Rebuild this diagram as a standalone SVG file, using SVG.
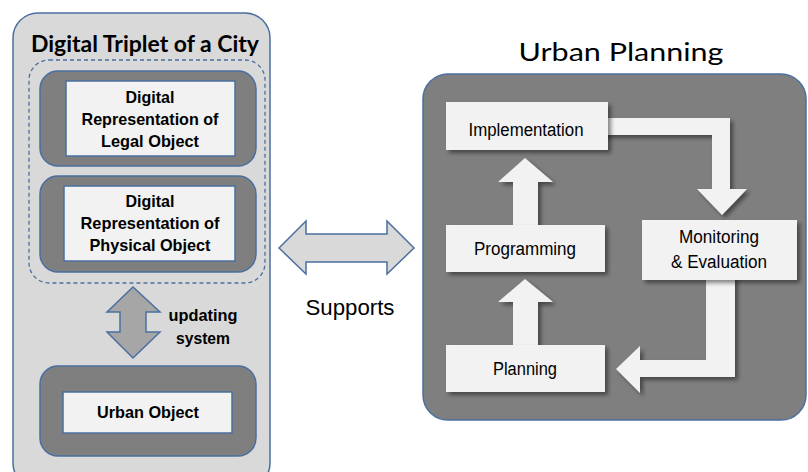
<svg xmlns="http://www.w3.org/2000/svg" width="808" height="472" viewBox="0 0 808 472">
<defs>
<filter id="sh" x="-20%" y="-20%" width="140%" height="140%">
<feDropShadow dx="3" dy="3" stdDeviation="2" flood-color="#000" flood-opacity="0.45"/>
</filter>
</defs>
<style>
.blue{stroke:#4a6fa0;stroke-width:1.5}
.dark{fill:#7f7f7f}
.wb{fill:#f2f2f2}
.bt{font-family:"Liberation Sans",Arial,sans-serif;font-weight:bold;font-size:16.5px;fill:#000;text-anchor:middle}
.rt{font-family:"Liberation Sans",Arial,sans-serif;font-size:18px;fill:#000;text-anchor:middle}
.title{font-family:Lato,"Open Sans",sans-serif;fill:#000;text-anchor:middle}
.flow{fill:#f2f2f2;filter:url(#sh)}
</style>
<rect width="808" height="472" fill="#fff"/>

<g id="triplet">
<rect x="13" y="13" width="257" height="475" rx="25" fill="#d9d9d9" class="blue"/>
<text class="title" x="145" y="52" style="font-size:23px;font-weight:bold" textLength="228" lengthAdjust="spacingAndGlyphs">Digital Triplet of a City</text>
<rect x="29" y="60" width="236" height="223" rx="20" fill="none" stroke="#4a6fa0" stroke-width="1.3" stroke-dasharray="4,3"/>
</g>

<g id="legal">
<rect x="40" y="71" width="216" height="95" rx="18" class="dark blue"/>
<rect x="66" y="81" width="169" height="75" class="wb blue"/>
<text class="bt" x="150" y="103" textLength="49" lengthAdjust="spacingAndGlyphs">Digital</text>
<text class="bt" x="150" y="125" textLength="137" lengthAdjust="spacingAndGlyphs">Representation of</text>
<text class="bt" x="150" y="147" textLength="98" lengthAdjust="spacingAndGlyphs">Legal Object</text>
</g>

<g id="physical">
<rect x="40" y="176" width="216" height="96" rx="18" class="dark blue"/>
<rect x="64" y="186" width="171" height="75" class="wb blue"/>
<text class="bt" x="150" y="207" textLength="49" lengthAdjust="spacingAndGlyphs">Digital</text>
<text class="bt" x="150" y="229" textLength="139" lengthAdjust="spacingAndGlyphs">Representation of</text>
<text class="bt" x="150" y="251" textLength="121" lengthAdjust="spacingAndGlyphs">Physical Object</text>
</g>

<g id="urbanobject">
<rect x="40" y="366" width="216" height="90" rx="18" class="dark blue"/>
<rect x="63" y="392" width="169" height="41" class="wb blue"/>
<text class="bt" x="148" y="418" textLength="102" lengthAdjust="spacingAndGlyphs">Urban Object</text>
</g>

<g id="planning-panel">
<text class="title" x="621" y="61" style="font-size:25px" textLength="205" lengthAdjust="spacingAndGlyphs">Urban Planning</text>
<rect x="423" y="74" width="383" height="346" rx="25" class="dark blue"/>
</g>

<g id="connectors">
<polygon points="133,287 160,312 146,312 146,332 160,332 133,358 107,332 120,332 120,312 107,312" fill="#a6a6a6" class="blue"/>
<text class="bt" x="203" y="321" textLength="69" lengthAdjust="spacingAndGlyphs">updating</text>
<text class="bt" x="203" y="344" textLength="54" lengthAdjust="spacingAndGlyphs">system</text>
<polygon points="279,248 306,221 306,234 387,234 387,221 414,248 387,274 387,262 306,262 306,274" fill="#d9d9d9" class="blue"/>
<text class="rt" x="350" y="315" style="font-size:22px" textLength="89" lengthAdjust="spacingAndGlyphs">Supports</text>
<polygon class="flow" points="600,118 730,118 730,189 747,189 722,215 697,189 712,189 712,135 600,135"/>
<polygon class="flow" points="706,275 735,275 735,377 640,377 640,393 616,369 640,346 640,360 706,360"/>
<polygon class="flow" points="513,225 513,182 498,182 525,158 553,182 538,182 538,225"/>
<polygon class="flow" points="513,345 513,302 498,302 525,279 553,302 538,302 538,345"/>
</g>

<g id="implementation">
<rect x="446" y="102" width="162" height="48" class="wb" filter="url(#sh)"/>
<text class="rt" x="526" y="136" textLength="115" lengthAdjust="spacingAndGlyphs">Implementation</text>
</g>
<g id="programming">
<rect x="446" y="225" width="159" height="47" class="wb" filter="url(#sh)"/>
<text class="rt" x="525" y="255" textLength="102" lengthAdjust="spacingAndGlyphs">Programming</text>
</g>
<g id="planning">
<rect x="446" y="345" width="159" height="47" class="wb" filter="url(#sh)"/>
<text class="rt" x="525" y="375" textLength="64" lengthAdjust="spacingAndGlyphs">Planning</text>
</g>
<g id="monitoring">
<rect x="642" y="220" width="155" height="60" class="wb" filter="url(#sh)"/>
<text class="rt" x="719" y="243" textLength="80" lengthAdjust="spacingAndGlyphs">Monitoring</text>
<text class="rt" x="719" y="268" textLength="96" lengthAdjust="spacingAndGlyphs">&amp; Evaluation</text>
</g>
</svg>
